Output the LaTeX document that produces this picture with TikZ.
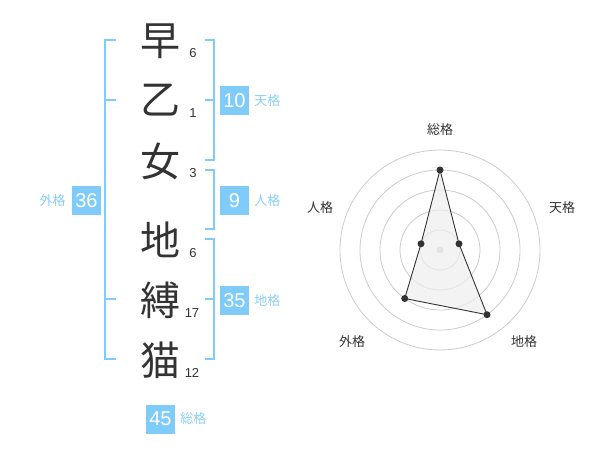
\documentclass[tikz,border=0pt]{standalone}
\usepackage{fontspec}
\setmainfont{Liberation Sans}
\newfontfamily\jpfont{Noto Sans CJK JP}
\definecolor{seiBlue}{RGB}{127,204,250}
\definecolor{seiLabel}{RGB}{138,207,247}
\definecolor{seiInk}{RGB}{51,51,51}
\definecolor{seiGrid}{RGB}{204,204,204}
\definecolor{seiFill}{RGB}{238,238,238}

\begin{document}
\begin{tikzpicture}[x=1pt,y=-1pt,
      kj/.style={font=\jpfont\fontsize{40}{40}\selectfont,text=seiInk,inner sep=0pt},
      stk/.style={font=\fontsize{13}{13}\selectfont,text=seiInk,inner sep=0pt},
      num/.style={fill=seiBlue,text=white,minimum size=29pt,inner sep=0pt,font=\fontsize{20}{20}\selectfont},
      kaku/.style={font=\jpfont\fontsize{13}{13}\selectfont,text=seiLabel,inner sep=0pt,anchor=west},
      brk/.style={draw=seiBlue,line width=2pt},
      ring/.style={draw=seiGrid,line width=0.8pt},
      dot/.style={circle,fill=seiInk,inner sep=0pt,minimum size=7pt},
      axl/.style={font=\jpfont\fontsize{13}{13}\selectfont,text=seiInk}
    ]
    \useasboundingbox[fill=white] (0,0) rectangle (600,470);
    % name column
    \node[kj] (c1) at (160,41)  {早};
    \node[kj] (c2) at (160,100) {乙};
    \node[kj] (c3) at (160,161) {女};
    \node[kj] (c4) at (160,240) {地};
    \node[kj] (c5) at (160,300) {縛};
    \node[kj] (c6) at (160,360) {猫};
    \node[stk] (s1) at (193,53)  {6};
    \node[stk] (s2) at (193,113) {1};
    \node[stk] (s3) at (193,173) {3};
    \node[stk] (s4) at (193,253) {6};
    \node[stk] (s5) at (192,313) {17};
    \node[stk] (s6) at (192,373) {12};
    % brackets
    \draw[brk] (116,40) -| (105,359) -- (116,359);
    \draw[brk] (105,100) -- (116,100);
    \draw[brk] (105,299) -- (116,299);
    \draw[brk] (205,40) -| (214,160) -- (205,160);
    \draw[brk] (214,100) -- (205,100);
    \draw[brk] (205,170) -| (214,229) -- (205,229);
    \draw[brk] (205,239) -| (214,359) -- (205,359);
    \draw[brk] (214,299) -- (205,299);
    % totals
    \node[num] (ten) at (234.5,100.5) {10};
    \node[kaku] at ([xshift=5pt]ten.east) {天格};
    \node[num] (jin) at (234.5,200.5) {9};
    \node[kaku] at ([xshift=5pt]jin.east) {人格};
    \node[num] (chi) at (234.5,300.5) {35};
    \node[kaku] at ([xshift=5pt]chi.east) {地格};
    \node[num] (gai) at (86.5,200.5) {36};
    \node[kaku,anchor=east] at ([xshift=-6pt]gai.west) {外格};
    \node[num] (sou) at (160.5,419) {45};
    \node[kaku] at ([xshift=5pt]sou.east) {総格};
    % radar
    \coordinate (o) at (440,250);
    \foreach \r in {20,40,...,100}
      \draw[ring] (o) circle[radius=\r];
    \fill[seiGrid] (o) circle[radius=3.5];
    \coordinate (r1) at (440,170);
    \coordinate (r2) at (459,243.8);
    \coordinate (r3) at (487,314.7);
    \coordinate (r4) at (404.7,298.5);
    \coordinate (r5) at (421,243.8);
    \filldraw[fill=seiFill,fill opacity=0.7,draw=seiInk,line width=0.9pt] (r1) -- (r2) -- (r3) -- (r4) -- (r5) -- cycle;
    \foreach \p in {r1,r2,r3,r4,r5}
      \node[dot] at (\p) {};
    \node[axl] (a1) at (440,130) {総格};
    \node[axl] (a2) at (562,208) {天格};
    \node[axl] (a3) at (524,342) {地格};
    \node[axl] (a4) at (352,342) {外格};
    \node[axl] (a5) at (320,208) {人格};
  \end{tikzpicture}
\end{document}
